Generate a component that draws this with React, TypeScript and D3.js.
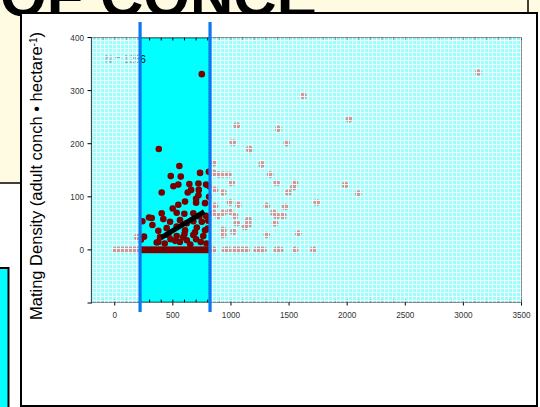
import React, { useEffect, useRef } from "react";
import * as d3 from "d3";

// band of distances that is highlighted (metres)
const bandEdges = [218, 820];

// conch density points (distance, density)
const insideX = [749, 379, 556, 482, 568, 734, 810, 547, 505, 642, 720, 786, 657, 628, 723, 404, 700, 720, 777, 700, 547, 605, 499, 404, 533, 599, 676, 728, 786, 295, 238, 418, 476, 324, 562, 620, 676, 749, 375, 447, 533, 605, 706, 777, 252, 390, 461, 533, 590, 676, 762, 375, 519, 225, 361, 318, 430, 480, 560, 620, 650, 700, 740, 790, 600, 690, 800, 805, 812, 815];
const insideY = [331, 190, 158, 139, 138, 145, 147, 123, 120, 124, 125, 123, 113, 108, 113, 108, 96, 103, 88, 89, 85, 91, 78, 69, 70, 68, 69, 63, 64, 61, 54, 58, 53, 47, 56, 50, 54, 53, 36, 41, 44, 37, 42, 37, 25, 24, 28, 26, 24, 28, 26, 15, 17, 19, 14, 60, 12, 20, 15, 18, 10, 20, 15, 12, 30, 33, 40, 55, 100, 120];
const zeroX = [222, 235, 248, 262, 275, 290, 305, 318, 330, 345, 360, 372, 388, 400, 415, 430, 445, 458, 470, 485, 500, 512, 528, 540, 555, 570, 585, 598, 612, 625, 640, 655, 668, 682, 695, 710, 722, 738, 750, 765, 778, 790, 805, 815];

const outsideX = [849, 1265, 849, 892, 935, 978, 1337, 1007, 1394, 1552, 1537, 1982, 863, 935, 1494, 2096, 992, 1064, 1308, 1466, 1738, 863, 849, 892, 935, 992, 1035, 1365, 1394, 1451, 1050, 1150, 1150, 1121, 1380, 935, 935, 1021, 1308, 1580, 1164, 1050, 1015, 1158, 1408, 3129, 1623, 2016, 1480, 195];
const outsideY = [163, 161, 145, 142, 142, 142, 142, 126, 126, 126, 118, 122, 113, 108, 108, 106, 89, 85, 83, 81, 89, 83, 70, 64, 70, 72, 64, 70, 64, 64, 50, 56, 48, 43, 50, 38, 28, 34, 28, 31, 188, 234, 202, 190, 228, 334, 290, 246, 201, 24];
const zeroOutX = [10, 35, 60, 85, 110, 140, 170, 195, 849, 949, 977, 1035, 1064, 1107, 1136, 1222, 1251, 1279, 1394, 1423, 1552, 1709];

// regression line ends
const fitX = [400, 770];
const fitY = [23, 72];

const xTicks = [0, 500, 1000, 1500, 2000, 2500, 3000, 3500];
const yTicks = [-100, 0, 100, 200, 300, 400];
const yLabels = [0, 100, 200, 300, 400];

export default function App() {
  const ref = useRef<SVGSVGElement>(null);

  useEffect(() => {
    const svg = d3.select(ref.current);
    svg.selectAll("*").remove();

    const left = 91.5, right = 521.5, top = 37.5, bottom = 302.5;
    const x = d3.scaleLinear().domain([-200, 3500]).range([left, right]);
    const y = d3.scaleLinear().domain([-100, 400]).range([bottom + 0.5, top]);

    const defs = svg.append("defs");
    const pat = defs.append("pattern").attr("id", "mesh").attr("width", 4).attr("height", 4)
      .attr("patternUnits", "userSpaceOnUse");
    pat.append("rect").attr("width", 4).attr("height", 4).attr("fill", "white").attr("fill-opacity", 0.6);
    pat.append("path").attr("d", "M0 0.5H4M0.5 0V4").attr("stroke", "white").attr("stroke-opacity", 0.85);
    defs.append("clipPath").attr("id", "plotclip").append("rect")
      .attr("x", left).attr("y", top).attr("width", right - left).attr("height", bottom - top);

    // slide background bits
    svg.append("rect").attr("x", -2).attr("y", -2).attr("width", 545).attr("height", 15)
      .attr("fill", "#fffbe3");
    svg.append("rect").attr("x", -2).attr("y", -2).attr("width", 530).attr("height", 185)
      .attr("fill", "#fffbe3").attr("stroke", "#000").attr("stroke-width", 1.5);
    svg.append("rect").attr("x", -4).attr("y", 268).attr("width", 12.5).attr("height", 150)
      .attr("fill", "#00ffff").attr("stroke", "#000").attr("stroke-width", 2);
    svg.append("text").attr("x", 0).attr("y", 16).attr("fill", "#000")
      .style("font", "bold 60px 'Liberation Sans', Arial, sans-serif").text("OF CONCE");

    // white panel
    svg.append("rect").attr("x", 21).attr("y", 13).attr("width", 516).attr("height", 393)
      .attr("fill", "#fff").attr("stroke", "#000").attr("stroke-width", 2);

    // y title
    const yt = svg.append("text").attr("transform", "translate(42,320) rotate(-90)")
      .style("font", "16.5px 'Liberation Sans', Arial, sans-serif").attr("fill", "#000");
    yt.append("tspan").text("Mating Density (adult conch \u2022 hectare");
    yt.append("tspan").attr("baseline-shift", "super").style("font-size", "10px").text("-1");
    yt.append("tspan").text(")");

    const plot = svg.append("g").attr("clip-path", "url(#plotclip)");
    plot.append("rect").attr("x", left).attr("y", top).attr("width", right - left).attr("height", bottom - top)
      .attr("fill", "#00ffff");

    // minor ticks inside along top and bottom
    const minor = d3.range(-200, 3501, 100);
    plot.selectAll(".mb").data(minor).join("line").attr("x1", d => x(d)).attr("x2", d => x(d))
      .attr("y1", bottom).attr("y2", bottom - 3).attr("stroke", "#000");
    plot.selectAll(".mt").data(minor).join("line").attr("x1", d => x(d)).attr("x2", d => x(d))
      .attr("y1", top).attr("y2", top + 3).attr("stroke", "#000");

    const pts = [
      ...insideX.map((v, i) => [v, insideY[i]]),
      ...zeroX.map(v => [v, 0]),
      ...outsideX.map((v, i) => [v, outsideY[i]]),
      ...zeroOutX.map(v => [v, 0]),
    ];
    plot.selectAll("circle").data(pts).join("circle")
      .attr("cx", d => x(d[0])).attr("cy", d => y(d[1])).attr("r", 3.3).attr("fill", "#7a0000");

    plot.append("line").attr("x1", x(fitX[0])).attr("y1", y(fitY[0])).attr("x2", x(fitX[1])).attr("y2", y(fitY[1]))
      .attr("stroke", "#000").attr("stroke-width", 5);

    plot.append("text").attr("x", 105).attr("y", 63).attr("fill", "#000")
      .style("font", "10px 'Liberation Sans', Arial, sans-serif").text("N = 1256");

    // frame
    plot.append("rect").attr("x", left).attr("y", top).attr("width", right - left).attr("height", bottom - top)
      .attr("fill", "none").attr("stroke", "#000").attr("stroke-width", 1.5);

    // fade everything outside the band
    plot.append("rect").attr("x", left).attr("y", top).attr("width", x(bandEdges[0]) - left).attr("height", bottom - top)
      .attr("fill", "url(#mesh)");
    plot.append("rect").attr("x", x(bandEdges[1])).attr("y", top).attr("width", right - x(bandEdges[1])).attr("height", bottom - top)
      .attr("fill", "url(#mesh)");

    // left axis
    svg.append("line").attr("x1", left).attr("x2", left).attr("y1", top).attr("y2", bottom + 1)
      .attr("stroke", "#2a5555").attr("stroke-width", 1.2);
    svg.selectAll(".yt").data(yTicks).join("line").attr("x1", left - 4).attr("x2", left)
      .attr("y1", d => y(d)).attr("y2", d => y(d)).attr("stroke", "#000");
    svg.selectAll(".yl").data(yLabels).join("text").attr("x", left - 7.5).attr("y", d => y(d) + 3)
      .attr("text-anchor", "end").attr("fill", "#333")
      .style("font", "8.2px 'Liberation Sans', Arial, sans-serif").text(d => d);

    // bottom axis
    svg.selectAll(".xt").data(xTicks).join("line").attr("x1", d => x(d)).attr("x2", d => x(d))
      .attr("y1", bottom).attr("y2", bottom + 3).attr("stroke", "#000");
    svg.selectAll(".xl").data(xTicks).join("text").attr("x", d => x(d)).attr("y", bottom + 15)
      .attr("text-anchor", "middle").attr("fill", "#333")
      .style("font", "8.2px 'Liberation Sans', Arial, sans-serif").text(d => d);

    // band edges
    svg.selectAll(".edge").data(bandEdges).join("line").attr("x1", d => x(d)).attr("x2", d => x(d))
      .attr("y1", 22).attr("y2", 312).attr("stroke", "#0a78f0").attr("stroke-width", 3.2);
  }, []);

  return (
    <svg ref={ref} width={540} height={407} style={{ position: "absolute", left: 0, top: 0 }} />
  );
}
